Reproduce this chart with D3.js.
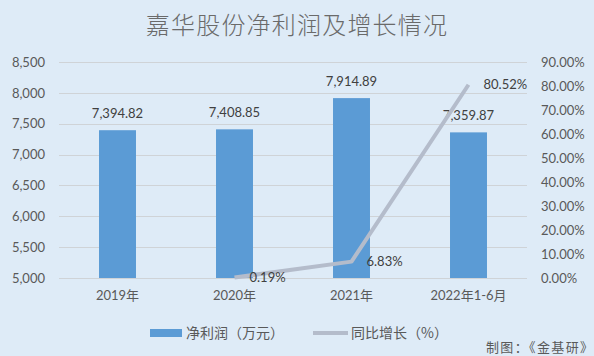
<!DOCTYPE html>
<html><head><meta charset="utf-8">
<script src="https://cdn.jsdelivr.net/npm/d3@7"></script>
<style>
html,body{margin:0;padding:0;background:#deebf7;}
svg{display:block;}
text{font-family:Lato,"Noto Sans CJK SC",sans-serif;fill:#595959;}
</style></head>
<body>
<svg id="c" width="594" height="356"></svg>
<script>
const title = "嘉华股份净利润及增长情况";
const categories = ["2019年", "2020年", "2021年", "2022年1-6月"];
const profit = [7394.82, 7408.85, 7914.89, 7359.87];
const growth = [null, 0.19, 6.83, 80.52];
const leftTicks = [5000, 5500, 6000, 6500, 7000, 7500, 8000, 8500];
const rightTicks = [0, 10, 20, 30, 40, 50, 60, 70, 80, 90];
const legendLabels = ["净利润（万元）", "同比增长（%）"];
const source = "制图：《金基研》";

const W = 594, H = 356;
const m = {left: 59, right: 527, top: 62, bottom: 278};
const svg = d3.select("#c");
svg.append("rect").attr("width", W).attr("height", H).attr("fill", "#deebf7");

const x = d3.scaleBand().domain(categories).range([m.left, m.right]).paddingInner(0.684).paddingOuter(0.342);
const y = d3.scaleLinear().domain([5000, 8500]).range([m.bottom, m.top]);
const y2 = d3.scaleLinear().domain([0, 90]).range([m.bottom, m.top]);

// title
svg.append("text").attr("x", W/2).attr("y", 34).attr("text-anchor", "middle")
  .style("font-family", "'Noto Sans CJK SC'").style("font-size", "24px").style("letter-spacing", "1.2px")
  .style("font-weight", "300").style("fill", "#6a6a6a")
  .text(title);

// gridlines
svg.append("g").selectAll("line").data(leftTicks).join("line")
  .attr("x1", m.left).attr("x2", m.right)
  .attr("y1", d => Math.round(y(d)) + 0.5).attr("y2", d => Math.round(y(d)) + 0.5)
  .attr("stroke", "#cfd3d7").attr("stroke-width", 1);

// left axis
const fmtL = d3.format(",");
const gl = svg.append("g").attr("transform", `translate(${m.left - 14},0)`)
  .call(d3.axisLeft(y).tickValues(leftTicks).tickFormat(fmtL).tickSize(0).tickPadding(0));
gl.select(".domain").remove();
gl.selectAll("text").style("font-size", "13px").attr("fill", "#595959");

// right axis
const gr = svg.append("g").attr("transform", `translate(${m.right + 14},0)`)
  .call(d3.axisRight(y2).tickValues(rightTicks).tickFormat(d => d.toFixed(2) + "%").tickSize(0).tickPadding(0));
gr.select(".domain").remove();
gr.selectAll("text").style("font-size", "13px").attr("fill", "#595959");

// x axis labels
const gx = svg.append("g").attr("transform", `translate(0,${m.bottom + 13})`)
  .call(d3.axisBottom(x).tickSize(0).tickPadding(0));
gx.select(".domain").remove();
gx.selectAll("text").style("font-size", "13px").attr("fill", "#595959").attr("dy", "0.71em");

// bars
svg.append("g").selectAll("rect").data(profit).join("rect")
  .attr("x", (d, i) => x(categories[i])).attr("width", x.bandwidth())
  .attr("y", d => y(d)).attr("height", d => y(5000) - y(d))
  .attr("fill", "#5b9bd5");

svg.append("g").selectAll("text").data(profit).join("text")
  .attr("x", (d, i) => x(categories[i]) + x.bandwidth()/2)
  .attr("y", d => y(d) - 12).attr("text-anchor", "middle")
  .style("font-size", "13px").style("fill", "#404040")
  .text(d => d3.format(",.2f")(d));

// line
const pts = growth.map((g, i) => ({g, c: categories[i]})).filter(p => p.g !== null);
const line = d3.line().x(p => x(p.c) + x.bandwidth()/2).y(p => y2(p.g));
svg.append("path").datum(pts).attr("d", line)
  .attr("fill", "none").attr("stroke", "#b4bccb").attr("stroke-width", 4).attr("stroke-linejoin", "round");

svg.append("g").selectAll("text").data(pts).join("text")
  .attr("x", p => x(p.c) + x.bandwidth()/2 + 15)
  .attr("y", p => y2(p.g)).attr("dy", "0.35em")
  .style("font-size", "13px").style("fill", "#404040")
  .text(p => p.g.toFixed(2) + "%");

// legend
const lg = svg.append("g");
lg.append("rect").attr("x", 150).attr("y", 329).attr("width", 32).attr("height", 8).attr("fill", "#5b9bd5");
lg.append("text").attr("x", 186).attr("y", 333).attr("dy", "0.35em")
  .style("font-family", "'Noto Sans CJK SC'").style("font-size", "14px").text(legendLabels[0]);
lg.append("line").attr("x1", 313).attr("x2", 348).attr("y1", 333).attr("y2", 333)
  .attr("stroke", "#b4bccb").attr("stroke-width", 4);
lg.append("text").attr("x", 351).attr("y", 333).attr("dy", "0.35em")
  .style("font-family", "'Noto Sans CJK SC'").style("font-size", "14px").text(legendLabels[1]);

svg.append("text").attr("x", 486).attr("y", 347).attr("dy", "0.35em")
  .attr("textLength", 107).attr("lengthAdjust", "spacing")
  .style("font-family", "'Noto Sans CJK SC'").style("font-size", "13px").text(source);
</script>
</body></html>
